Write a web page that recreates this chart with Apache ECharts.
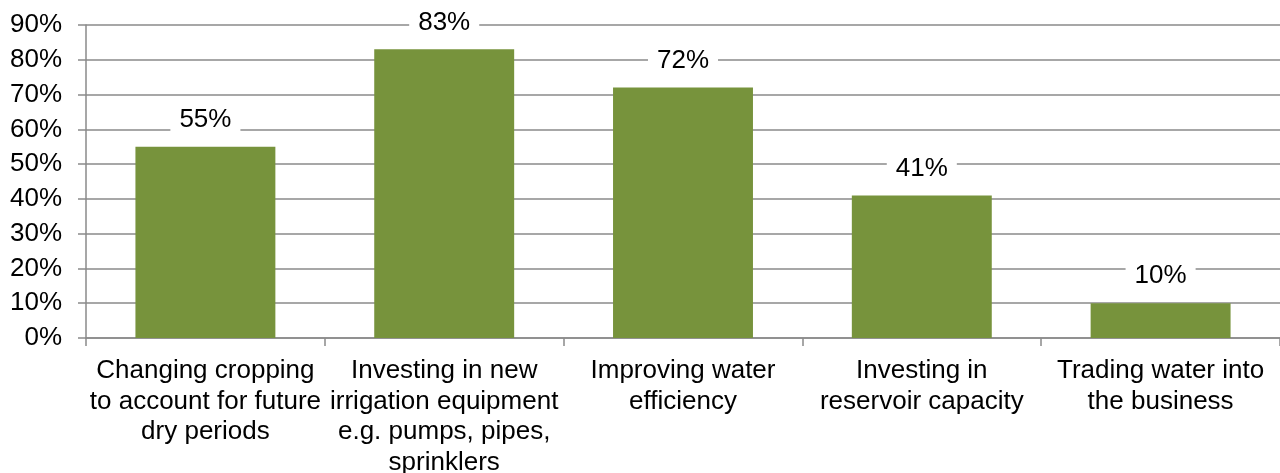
<!DOCTYPE html>
<html><head><meta charset="utf-8">
<script src="https://cdn.jsdelivr.net/npm/echarts@6/dist/echarts.min.js"></script>
<style>html,body{margin:0;padding:0;background:#fff}#c{width:1280px;height:473px}</style>
</head><body><div id="c"></div>
<script>
const categories = [
  "Changing cropping\nto account for future\ndry periods",
  "Investing in new\nirrigation equipment\ne.g. pumps, pipes,\nsprinklers",
  "Improving water\nefficiency",
  "Investing in\nreservoir capacity",
  "Trading water into\nthe business"
];
const values = [55, 83, 72, 41, 10];
const yTicks = [0, 10, 20, 30, 40, 50, 60, 70, 80, 90];

const FONT = 'Liberation Sans, Arial, sans-serif';
const chart = echarts.init(document.getElementById('c'));
chart.setOption({
  animation: false,
  backgroundColor: '#fff',
  textStyle: { fontFamily: FONT },
  grid: { left: 86, right: 0, top: 25, bottom: 135, containLabel: false, outerBoundsMode: 'none' },
  xAxis: {
    type: 'category',
    data: categories,
    axisLine: { show: true, lineStyle: { color: '#8a8a8a', width: 1.5 } },
    axisTick: { show: true, length: 8, lineStyle: { color: '#8a8a8a', width: 1.5 } },
    axisLabel: { interval: 0, color: '#000', fontSize: 26, lineHeight: 30.5, margin: 18, fontFamily: FONT }
  },
  yAxis: {
    type: 'value',
    min: yTicks[0], max: yTicks[yTicks.length - 1], interval: 10,
    axisLine: { show: true, lineStyle: { color: '#8a8a8a', width: 1.5 } },
    axisTick: { show: true, length: 8, lineStyle: { color: '#8a8a8a', width: 1.5 } },
    axisLabel: { color: '#000', fontSize: 26, margin: 24, formatter: v => v + '%', fontFamily: FONT },
    splitLine: { show: true, lineStyle: { color: '#8a8a8a', width: 1.5 } }
  },
  series: [{
    type: 'bar',
    data: values,
    barWidth: '58.6%',
    itemStyle: { color: '#77933C' },
    label: {
      show: true, position: 'top', distance: 14,
      formatter: p => p.value + '%',
      color: '#000', fontSize: 26, fontFamily: FONT,
      backgroundColor: '#fff', padding: [0, 9]
    }
  }]
});
</script></body></html>
